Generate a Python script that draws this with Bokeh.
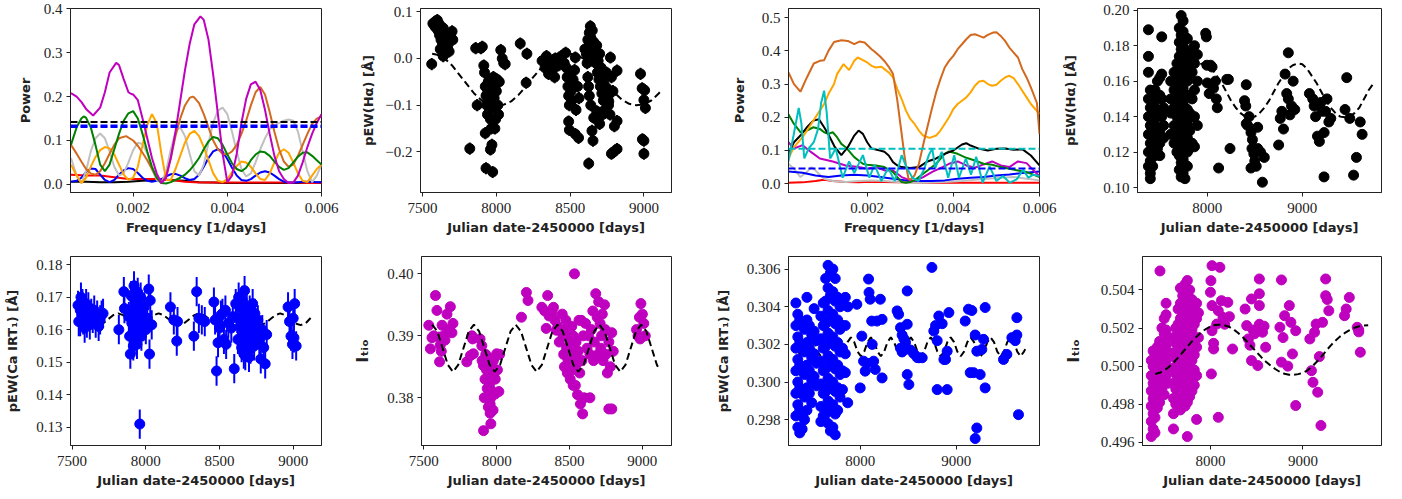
import numpy as np
from bokeh.plotting import figure
from bokeh.layouts import column, row
from bokeh.models import Range1d, FixedTicker, CustomJSTickFormatter, Span
from bokeh.embed import file_html
from bokeh.resources import INLINE

# ------------------------------------------------------------------ DATA
# Panel 1: periodograms (left star)  (frequency, power)
p1_magenta = [(0.00068,0.208),(0.0008,0.200),(0.0009,0.188),(0.0010,0.172),(0.00115,0.157),(0.0013,0.175),
              (0.0014,0.210),(0.0015,0.255),(0.00164,0.277),(0.0017,0.272),(0.0018,0.240),(0.0019,0.210),
              (0.00196,0.206),(0.0020,0.205),(0.0021,0.192),(0.0022,0.150),(0.0023,0.105),(0.0024,0.060),
              (0.0025,0.025),(0.0026,0.003),(0.0027,0.015),(0.0028,0.060),(0.0029,0.120),(0.0030,0.190),
              (0.0031,0.260),(0.0032,0.320),(0.0033,0.365),(0.00343,0.383),(0.0035,0.375),(0.0036,0.330),
              (0.0037,0.250),(0.0038,0.160),(0.0039,0.070),(0.0040,0.005),(0.0041,0.020),(0.0042,0.070),
              (0.0043,0.140),(0.0044,0.195),(0.0045,0.228),(0.0046,0.234),(0.0047,0.215),(0.0048,0.170),
              (0.0049,0.115),(0.0050,0.065),(0.0051,0.030),(0.0052,0.012),(0.0053,0.003),(0.0054,0.004),
              (0.0055,0.020),(0.0056,0.050),(0.0057,0.085),(0.0058,0.115),(0.0059,0.140),(0.0060,0.160)]
p1_brown = [(0.00068,0.090),(0.0008,0.070),(0.0009,0.052),(0.0010,0.035),(0.0011,0.025),(0.0012,0.022),
            (0.0013,0.030),(0.0014,0.048),(0.0015,0.070),(0.0016,0.090),(0.0017,0.105),(0.00185,0.110),
            (0.0020,0.100),(0.0021,0.088),(0.0022,0.072),(0.0023,0.055),(0.0024,0.035),(0.0025,0.015),
            (0.0026,0.003),(0.0027,0.020),(0.0028,0.060),(0.0029,0.110),(0.0030,0.150),(0.0031,0.180),
            (0.0032,0.197),(0.00326,0.200),(0.0033,0.198),(0.0034,0.185),(0.0035,0.160),(0.0036,0.130),
            (0.0037,0.100),(0.0038,0.080),(0.0039,0.070),(0.0040,0.068),(0.0041,0.075),(0.0042,0.090),
            (0.0043,0.115),(0.0044,0.145),(0.0045,0.180),(0.0046,0.210),(0.0047,0.222),(0.0048,0.205),
            (0.0049,0.165),(0.0050,0.120),(0.0051,0.080),(0.0052,0.052),(0.0053,0.040),(0.0054,0.045),
            (0.0055,0.065),(0.0056,0.090),(0.0057,0.115),(0.0058,0.138),(0.0059,0.150),(0.0060,0.155)]
p1_orange = [(0.00068,0.045),(0.0008,0.020),(0.0009,0.003),(0.0010,0.015),(0.0011,0.040),(0.0012,0.062),
             (0.0013,0.078),(0.0014,0.085),(0.0015,0.082),(0.0016,0.068),(0.0017,0.045),(0.0018,0.022),
             (0.0019,0.010),(0.0020,0.015),(0.0021,0.040),(0.0022,0.090),(0.0023,0.135),(0.0024,0.160),
             (0.0025,0.140),(0.0026,0.070),(0.0027,0.010),(0.0028,0.010),(0.0029,0.035),(0.0030,0.065),
             (0.0031,0.095),(0.0032,0.115),(0.0033,0.122),(0.0034,0.110),(0.0035,0.085),(0.0036,0.055),
             (0.0037,0.025),(0.0038,0.008),(0.0039,0.005),(0.0040,0.012),(0.0041,0.028),(0.0042,0.042),
             (0.0043,0.052),(0.0044,0.050),(0.0045,0.040),(0.0046,0.025),(0.0047,0.012),(0.0048,0.010),
             (0.0049,0.025),(0.0050,0.050),(0.0051,0.072),(0.0052,0.080),(0.0053,0.072),(0.0054,0.050),
             (0.0055,0.025),(0.0056,0.008),(0.0057,0.005),(0.0058,0.020),(0.0059,0.035),(0.0060,0.045)]
p1_grey = [(0.00068,0.060),(0.0008,0.020),(0.0009,0.003),(0.0010,0.030),(0.0011,0.075),(0.0012,0.105),
           (0.0013,0.116),(0.0014,0.105),(0.0015,0.075),(0.0016,0.040),(0.0017,0.020),(0.0018,0.025),
           (0.0019,0.050),(0.0020,0.078),(0.0021,0.095),(0.0022,0.092),(0.0023,0.070),(0.0024,0.035),
           (0.0025,0.010),(0.0026,0.003),(0.0027,0.030),(0.0028,0.080),(0.0029,0.120),(0.0030,0.130),
           (0.0031,0.110),(0.0032,0.070),(0.0033,0.030),(0.0034,0.020),(0.0035,0.045),(0.0036,0.095),
           (0.0037,0.140),(0.0038,0.168),(0.0039,0.175),(0.0040,0.160),(0.0041,0.120),(0.0042,0.075),
           (0.0043,0.035),(0.0044,0.018),(0.0045,0.025),(0.0046,0.050),(0.0047,0.080),(0.0048,0.105),
           (0.0049,0.125),(0.0050,0.135),(0.0051,0.140),(0.0052,0.145),(0.0053,0.148),(0.0054,0.145),
           (0.0055,0.120),(0.0056,0.075),(0.0057,0.030),(0.0058,0.005),(0.0059,0.020),(0.0060,0.045)]
p1_green = [(0.00068,0.090),(0.0008,0.130),(0.0009,0.150),(0.00095,0.155),(0.0010,0.152),(0.0011,0.130),
            (0.0012,0.090),(0.0013,0.045),(0.0014,0.030),(0.0015,0.045),(0.0016,0.080),(0.0017,0.115),
            (0.0018,0.145),(0.0019,0.162),(0.0020,0.167),(0.0021,0.150),(0.0022,0.115),(0.0023,0.075),
            (0.0024,0.040),(0.0025,0.015),(0.0026,0.003),(0.0027,0.002),(0.0028,0.005),(0.0029,0.010),
            (0.0030,0.015),(0.0031,0.022),(0.0032,0.032),(0.0033,0.045),(0.0034,0.060),(0.0035,0.080),
            (0.0036,0.098),(0.0037,0.108),(0.0038,0.105),(0.0039,0.090),(0.0040,0.068),(0.0041,0.048),
            (0.0042,0.035),(0.0043,0.030),(0.0044,0.038),(0.0045,0.055),(0.0046,0.068),(0.0047,0.075),
            (0.0048,0.073),(0.0049,0.065),(0.0050,0.052),(0.0051,0.040),(0.0052,0.033),(0.0053,0.037),
            (0.0054,0.050),(0.0055,0.063),(0.0056,0.072),(0.0057,0.073),(0.0058,0.065),(0.0059,0.055),
            (0.0060,0.045)]
p1_blue = [(0.00068,0.006),(0.0008,0.008),(0.0009,0.015),(0.0010,0.028),(0.0011,0.036),(0.0012,0.035),
           (0.0013,0.022),(0.0014,0.010),(0.0015,0.005),(0.0016,0.010),(0.0017,0.022),(0.0018,0.032),
           (0.0019,0.037),(0.0020,0.035),(0.0021,0.026),(0.0022,0.015),(0.0023,0.008),(0.0024,0.006),
           (0.0025,0.008),(0.0026,0.012),(0.0027,0.018),(0.0028,0.023),(0.0029,0.024),(0.0030,0.020),
           (0.0031,0.014),(0.0032,0.010),(0.0033,0.012),(0.0034,0.022),(0.0035,0.040),(0.0036,0.060),
           (0.0037,0.075),(0.0038,0.080),(0.0039,0.075),(0.0040,0.058),(0.0041,0.038),(0.0042,0.020),
           (0.0043,0.010),(0.0044,0.008),(0.0045,0.012),(0.0046,0.020),(0.0047,0.027),(0.0048,0.030),
           (0.0049,0.027),(0.0050,0.020),(0.0051,0.012),(0.0052,0.006),(0.0053,0.004),(0.0054,0.004),
           (0.0055,0.005),(0.0056,0.006),(0.0057,0.006),(0.0058,0.006),(0.0059,0.005),(0.0060,0.005)]
p1_red = [(0.00068,0.022),(0.0010,0.020),(0.0013,0.020),(0.0016,0.016),(0.0019,0.012),(0.0022,0.012),
          (0.0025,0.012),(0.0028,0.010),(0.0031,0.006),(0.0034,0.004),(0.0037,0.004),(0.0040,0.004),
          (0.0043,0.004),(0.0046,0.004),(0.0049,0.004),(0.0052,0.004),(0.0055,0.004),(0.0058,0.003),
          (0.0060,0.003)]
p1_black = [(0.00068,0.006),(0.0010,0.006),(0.0013,0.005),(0.0016,0.005),(0.0019,0.006),(0.0022,0.008),
            (0.0025,0.010),(0.0028,0.010),(0.0031,0.008),(0.0034,0.005),(0.0037,0.004),(0.0040,0.003),
            (0.0043,0.003),(0.0046,0.003),(0.0049,0.003),(0.0052,0.003),(0.0055,0.003),(0.0058,0.004),
            (0.0060,0.004)]
p1_levels = [0.142, 0.134, 0.131]
p1_level_colors = ["#000000", "#0000ff", "#0000ff"]

# Panel 3: periodograms (right star)
p3_brown = [(0.00017,0.336),(0.0003,0.300),(0.00045,0.277),(0.0006,0.320),(0.00076,0.362),(0.0009,0.370),
            (0.0010,0.372),(0.0011,0.400),(0.00123,0.427),(0.0014,0.432),(0.00155,0.430),(0.0017,0.420),
            (0.00182,0.428),(0.00194,0.425),(0.0021,0.405),(0.00217,0.398),(0.0023,0.383),(0.00241,0.368),
            (0.0025,0.352),(0.0026,0.330),(0.0027,0.250),(0.00278,0.170),(0.00286,0.090),(0.0029,0.055),
            (0.00296,0.015),(0.0030,0.012),(0.0031,0.025),(0.0032,0.060),(0.00335,0.145),(0.0035,0.225),
            (0.0036,0.275),(0.0037,0.315),(0.0038,0.350),(0.0039,0.370),(0.0040,0.385),(0.0041,0.405),
            (0.0042,0.420),(0.0043,0.435),(0.0044,0.448),(0.0045,0.450),(0.0046,0.445),(0.0047,0.440),
            (0.0048,0.448),(0.00492,0.455),(0.0050,0.456),(0.0051,0.445),(0.0052,0.430),(0.0053,0.410),
            (0.0054,0.395),(0.0055,0.380),(0.0056,0.345),(0.0057,0.320),(0.0058,0.290),(0.00594,0.243),
            (0.0060,0.150)]
p3_orange = [(0.00017,0.076),(0.0003,0.110),(0.0005,0.140),(0.0007,0.180),(0.0009,0.220),(0.0010,0.240),
             (0.0011,0.270),(0.00123,0.300),(0.0013,0.330),(0.00145,0.360),(0.00158,0.342),(0.0017,0.370),
             (0.00178,0.380),(0.0019,0.372),(0.0020,0.365),(0.0021,0.355),(0.0022,0.350),(0.00233,0.352),
             (0.0024,0.345),(0.0025,0.335),(0.0026,0.320),(0.0027,0.285),(0.0028,0.255),(0.0029,0.220),
             (0.0030,0.195),(0.0031,0.180),(0.0032,0.160),(0.0033,0.145),(0.00345,0.138),(0.0036,0.145),
             (0.0037,0.160),(0.0038,0.180),(0.0039,0.200),(0.0040,0.225),(0.0041,0.240),(0.0042,0.250),
             (0.0043,0.260),(0.0044,0.275),(0.0045,0.295),(0.0046,0.308),(0.0047,0.310),(0.0048,0.300),
             (0.0049,0.295),(0.0050,0.298),(0.0051,0.310),(0.0052,0.320),(0.0053,0.325),(0.0054,0.318),
             (0.0055,0.300),(0.0056,0.280),(0.0057,0.260),(0.0058,0.240),(0.0059,0.225),(0.0060,0.210)]
p3_cyan = [(0.00017,0.067),(0.00029,0.145),(0.00041,0.228),(0.00047,0.184),(0.00054,0.076),(0.00064,0.106),
           (0.00076,0.125),(0.00086,0.165),(0.00093,0.243),(0.0010,0.280),(0.00106,0.214),(0.00114,0.076),
           (0.00127,0.106),(0.00143,0.018),(0.00158,0.067),(0.0017,0.032),(0.0019,0.086),(0.00205,0.018),
           (0.00217,0.057),(0.00233,0.008),(0.00249,0.047),(0.00264,0.008),(0.0028,0.086),(0.00292,0.047),
           (0.00305,0.018),(0.00319,0.008),(0.00333,0.047),(0.00343,0.086),(0.00351,0.106),(0.00358,0.047),
           (0.00373,0.096),(0.00388,0.018),(0.00402,0.086),(0.00413,0.018),(0.00429,0.076),(0.00441,0.027),
           (0.00453,0.081),(0.00468,0.003),(0.00484,0.052),(0.0050,0.008),(0.00515,0.023),(0.00531,0.003),
           (0.00547,0.013),(0.00562,0.042),(0.00574,0.018),(0.00586,0.027),(0.0060,0.023)]
p3_black = [(0.00017,0.091),(0.0003,0.125),(0.00045,0.145),(0.0006,0.170),(0.00075,0.190),(0.00088,0.194),
            (0.0010,0.170),(0.0011,0.148),(0.00125,0.110),(0.0014,0.086),(0.00155,0.110),(0.0017,0.145),
            (0.0018,0.160),(0.0019,0.150),(0.0020,0.125),(0.0021,0.106),(0.0023,0.100),(0.0024,0.096),
            (0.0025,0.085),(0.0026,0.065),(0.0027,0.055),(0.0028,0.050),(0.0030,0.047),(0.0032,0.050),
            (0.0034,0.067),(0.0036,0.076),(0.0038,0.090),(0.0040,0.100),(0.0042,0.118),(0.0043,0.122),
            (0.0044,0.115),(0.0046,0.105),(0.0048,0.100),(0.0050,0.105),(0.0052,0.106),(0.0054,0.102),
            (0.0056,0.104),(0.0058,0.085),(0.0060,0.055)]
p3_green = [(0.00017,0.209),(0.0003,0.180),(0.00045,0.155),(0.0006,0.160),(0.00075,0.170),(0.0009,0.165),
            (0.0010,0.155),(0.0011,0.150),(0.0012,0.155),(0.0013,0.140),(0.0014,0.120),(0.0015,0.110),
            (0.0016,0.095),(0.0017,0.080),(0.0018,0.070),(0.0019,0.060),(0.0020,0.057),(0.0022,0.055),
            (0.0024,0.050),(0.0026,0.035),(0.0027,0.020),(0.0028,0.005),(0.0029,0.003),(0.0030,0.005),
            (0.0031,0.010),(0.0032,0.020),(0.0034,0.040),(0.0036,0.060),(0.0038,0.090),(0.0039,0.097),
            (0.0041,0.090),(0.0043,0.078),(0.0045,0.070),(0.0047,0.060),(0.0049,0.057),(0.0051,0.050),
            (0.0053,0.045),(0.0055,0.040),(0.0057,0.035),(0.0059,0.025),(0.0060,0.020)]
p3_magenta = [(0.00017,0.125),(0.0003,0.106),(0.0005,0.116),(0.0007,0.095),(0.0009,0.076),(0.0012,0.067),
              (0.0015,0.055),(0.0018,0.050),(0.0020,0.045),(0.0022,0.050),(0.0024,0.040),(0.0026,0.040),
              (0.0028,0.020),(0.0030,0.010),(0.0031,0.008),(0.0033,0.020),(0.0035,0.035),(0.0037,0.047),
              (0.0039,0.060),(0.0041,0.067),(0.0043,0.055),(0.0045,0.048),(0.0047,0.058),(0.0049,0.067),
              (0.0051,0.055),(0.0053,0.050),(0.0055,0.067),(0.0057,0.062),(0.0059,0.035),(0.0060,0.023)]
p3_blue = [(0.00017,0.037),(0.0005,0.033),(0.0008,0.025),(0.0011,0.020),(0.0014,0.025),(0.0017,0.027),
           (0.0020,0.025),(0.0023,0.020),(0.0026,0.015),(0.0029,0.010),(0.0032,0.008),(0.0035,0.008),
           (0.0038,0.010),(0.0041,0.015),(0.0044,0.018),(0.0047,0.020),(0.0050,0.025),(0.0053,0.028),
           (0.0056,0.032),(0.0060,0.037)]
p3_grey = [(0.00017,0.060),(0.0003,0.045),(0.00045,0.020),(0.0006,0.035),(0.0007,0.050),(0.0008,0.040),
           (0.0010,0.015),(0.0012,0.008),(0.0015,0.005),(0.0018,0.008),(0.0021,0.010),(0.0024,0.008),
           (0.0027,0.005),(0.0030,0.003),(0.0033,0.003),(0.0036,0.004),(0.0039,0.006),(0.0042,0.008),
           (0.0045,0.012),(0.0048,0.015),(0.0051,0.018),(0.0054,0.020),(0.0057,0.015),(0.0060,0.010)]
p3_red = [(0.00017,0.003),(0.0005,0.004),(0.0008,0.008),(0.0010,0.012),(0.0012,0.008),(0.0015,0.005),
          (0.0018,0.004),(0.0021,0.006),(0.0024,0.005),(0.0027,0.004),(0.0030,0.004),(0.0033,0.003),
          (0.0036,0.003),(0.0039,0.003),(0.0042,0.003),(0.0045,0.003),(0.0048,0.003),(0.0051,0.003),
          (0.0054,0.003),(0.0057,0.003),(0.0060,0.003)]
p3_levels = [0.105, 0.046]
p3_level_colors = ["#00bfbf", "#0000ff"]

# Panel 2: pEW(Halpha), left star  (JD-2450000, value)
p2_points = [(7562,-0.012),(7570,0.075),(7578,0.072),(7585,0.068),(7590,0.080),(7595,0.065),(7600,0.082),
             (7605,0.060),(7610,0.075),(7615,0.050),(7620,0.070),(7625,0.040),(7630,0.055),(7635,0.030),
             (7640,0.065),(7645,0.020),(7650,0.010),(7655,0.035),(7660,0.045),(7670,0.025),(7680,0.015),
             (7690,0.050),(7700,0.058),(7705,0.040),(7620,0.020),(7640,0.005),
             (7820,-0.193),(7860,0.022),(7870,-0.100),(7895,0.022),(7905,0.025),(7915,-0.015),(7920,-0.030),
             (7925,-0.060),(7930,-0.080),(7935,-0.100),(7940,-0.120),(7925,-0.160),(7930,-0.235),(7945,-0.050),
             (7950,-0.070),(7950,-0.090),(7955,-0.110),(7960,-0.130),(7965,-0.150),(7960,-0.195),(7970,-0.185),
             (7975,-0.243),(7980,-0.040),(7985,-0.060),(7985,-0.085),(7990,-0.105),(7995,-0.130),(8000,-0.070),
             (8005,-0.045),(8010,-0.100),(8015,-0.120),(8020,-0.050),(8030,0.018),(8040,0.000),(8050,-0.010),
             (8060,-0.012),(7990,-0.150),(7940,-0.075),
             (8162,0.032),(8207,0.010),(8202,-0.052),
             (8310,-0.005),(8330,-0.020),(8340,0.005),(8354,-0.033),(8365,-0.010),(8380,-0.025),(8395,-0.040),
             (8400,0.000),(8420,-0.015),(8440,0.005),(8460,-0.010),(8470,0.012),
             (8475,-0.020),(8480,-0.040),(8485,-0.060),(8490,-0.080),(8495,-0.100),(8500,-0.030),(8505,-0.070),
             (8510,-0.090),(8490,-0.135),(8495,-0.153),(8520,-0.045),(8530,-0.025),(8535,0.002),(8540,-0.110),
             (8535,-0.162),(8550,-0.060),(8557,-0.170),(8560,-0.085),
             (8600,0.020),(8610,0.010),(8615,-0.010),(8620,0.040),(8620,-0.040),(8625,0.025),(8625,-0.060),
             (8630,0.055),(8630,-0.080),(8637,0.069),(8640,0.045),(8640,-0.100),(8645,0.030),(8650,0.060),
             (8655,0.015),(8660,0.035),(8665,0.000),(8670,0.020),(8675,-0.010),(8680,0.028),(8685,-0.030),
             (8690,-0.005),(8695,-0.045),(8700,0.010),(8705,-0.060),(8710,-0.020),(8715,-0.075),(8720,-0.040),
             (8725,-0.090),(8730,-0.055),(8735,-0.110),(8740,-0.070),(8745,-0.030),(8750,-0.064),(8755,-0.085),
             (8760,-0.100),(8762,-0.092),(8770,-0.120),(8773,0.002),(8780,-0.040),(8790,-0.070),(8800,-0.145),
             (8818,-0.134),(8818,-0.026),(8648,-0.155),(8655,-0.176),(8626,-0.225),(8660,-0.127),(8680,-0.113),
             (8700,-0.140),(8720,-0.120),(8780,-0.204),(8795,-0.200),(8818,-0.194),
             (8977,-0.033),(8988,-0.064),(9005,-0.068),(9000,-0.089),(9010,-0.106),(8990,-0.173),(9000,-0.176),
             (9000,-0.204)]
p2_err = 0.013
p2_model = [(7565,0.010),(7600,0.008),(7650,0.000),(7700,-0.015),(7750,-0.035),(7800,-0.055),(7850,-0.075),
            (7900,-0.090),(7950,-0.098),(8000,-0.100),(8050,-0.099),(8100,-0.092),(8150,-0.078),(8200,-0.060),
            (8250,-0.040),(8300,-0.022),(8350,-0.008),(8400,0.002),(8450,0.008),(8500,0.010),(8550,0.007),
            (8600,-0.002),(8650,-0.016),(8700,-0.034),(8750,-0.054),(8800,-0.073),(8850,-0.088),(8900,-0.097),
            (8950,-0.100),(9000,-0.098),(9050,-0.090),(9100,-0.075),(9120,-0.068)]

# Panel 4: pEW(Halpha), right star
p4_points = [(7380,0.189),(7380,0.174),(7380,0.165),(7380,0.150),(7380,0.140),(7380,0.130),(7380,0.120),(7380,0.112),
             (7400,0.155),(7400,0.145),(7400,0.135),(7400,0.125),(7400,0.115),(7400,0.108),(7400,0.105),
             (7425,0.150),(7425,0.140),(7425,0.130),(7425,0.120),(7425,0.112),
             (7450,0.155),(7450,0.145),(7450,0.135),(7450,0.125),(7450,0.118),
             (7475,0.160),(7475,0.150),(7475,0.140),(7475,0.130),(7475,0.122),
             (7500,0.162),(7500,0.152),(7500,0.142),(7500,0.132),(7500,0.125),(7500,0.118),
             (7520,0.185),(7520,0.164),(7520,0.150),(7520,0.140),(7520,0.128),
             (7540,0.145),(7540,0.135),(7540,0.128),
             (7615,0.130),(7615,0.142),(7615,0.150),(7615,0.160),
             (7650,0.125),(7650,0.135),(7650,0.145),(7650,0.155),(7650,0.165),
             (7680,0.120),(7680,0.130),(7680,0.140),(7680,0.150),(7680,0.160),(7680,0.170),
             (7705,0.110),(7705,0.118),(7705,0.126),(7705,0.134),(7705,0.142),(7705,0.150),(7705,0.158),
             (7705,0.166),(7705,0.174),(7705,0.182),(7705,0.190),
             (7725,0.106),(7725,0.114),(7725,0.122),(7725,0.130),(7725,0.138),(7725,0.146),(7725,0.154),
             (7725,0.162),(7725,0.170),(7725,0.178),(7725,0.186),(7725,0.197),
             (7745,0.108),(7745,0.116),(7745,0.124),(7745,0.132),(7745,0.140),(7745,0.148),(7745,0.156),
             (7745,0.164),(7745,0.172),(7745,0.180),(7745,0.188),(7745,0.194),
             (7765,0.105),(7765,0.113),(7765,0.121),(7765,0.129),(7765,0.137),(7765,0.145),(7765,0.153),
             (7765,0.161),(7765,0.169),(7765,0.177),(7765,0.185),
             (7790,0.112),(7790,0.120),(7790,0.128),(7790,0.136),(7790,0.144),(7790,0.152),(7790,0.160),
             (7790,0.168),(7790,0.176),(7790,0.184),
             (7815,0.122),(7815,0.132),(7815,0.142),(7815,0.152),(7815,0.162),(7815,0.172),
             (7840,0.125),(7840,0.140),(7840,0.150),(7840,0.165),(7840,0.178),
             (7865,0.123),(7865,0.140),(7865,0.155),(7865,0.170),(7865,0.180),
             (7895,0.135),(7895,0.160),(7895,0.175),
             (7983,0.187),(7990,0.185),(7995,0.169),(8035,0.169),(8050,0.168),(8000,0.159),(8020,0.153),
             (8065,0.156),(8085,0.160),(8095,0.150),(8105,0.145),(8119,0.111),(8205,0.161),(8222,0.161),
             (8239,0.122),
             (8410,0.158),(8392,0.149),(8405,0.146),(8410,0.136),(8425,0.135),(8440,0.140),(8460,0.131),
             (8475,0.127),(8470,0.122),(8490,0.119),(8500,0.115),(8515,0.112),(8460,0.111),(8530,0.134),
             (8530,0.122),(8560,0.120),(8600,0.117),(8580,0.103),
             (8751,0.124),(8768,0.139),(8785,0.143),(8802,0.133),(8819,0.164),(8836,0.153),(8853,0.150),
             (8853,0.176),(8870,0.141),(8887,0.146),(8904,0.160),(8921,0.144),
             (9075,0.153),(9110,0.150),(9125,0.146),(9140,0.140),(9160,0.129),(9180,0.126),(9195,0.148),
             (9210,0.143),(9230,0.131),(9245,0.143),(9260,0.150),(9280,0.137),(9229,0.106),(9300,0.139),
             (9468,0.162),(9450,0.144),(9500,0.139),(9570,0.117),(9540,0.107),(9610,0.137),(9630,0.130)]
p4_model = [(7400,0.1400),(7450,0.1396),(7500,0.1400),(7550,0.1420),(7600,0.1450),(7650,0.1490),(7700,0.1540),
            (7750,0.1590),(7800,0.1630),(7850,0.1670),(7900,0.1690),(7950,0.1700),(8000,0.1695),(8050,0.1670),
            (8100,0.1630),(8150,0.1590),(8200,0.1540),(8250,0.1490),(8300,0.1450),(8350,0.1420),(8400,0.1400),
            (8450,0.1396),(8500,0.1400),(8550,0.1420),(8600,0.1450),(8650,0.1490),(8700,0.1540),(8750,0.1590),
            (8800,0.1630),(8850,0.1670),(8900,0.1690),(8950,0.1700),(9000,0.1695),(9050,0.1670),(9100,0.1630),
            (9150,0.1590),(9200,0.1540),(9250,0.1490),(9300,0.1450),(9350,0.1420),(9400,0.1400),(9450,0.1396),
            (9500,0.1400),(9550,0.1420),(9600,0.1450),(9650,0.1500),(9700,0.1550),(9740,0.1580)]

# Panel 5: pEW(Ca IRT1), left star
p5_points = [(7540,0.1675),(7545,0.1625),(7555,0.1660),(7560,0.1700),(7565,0.1645),(7570,0.1680),(7575,0.1630),
             (7580,0.1665),(7585,0.1605),(7590,0.1655),(7595,0.1680),(7600,0.1620),(7605,0.1645),(7610,0.1670),
             (7620,0.1615),(7630,0.1650),(7640,0.1635),(7650,0.1660),(7660,0.1620),(7670,0.1645),(7680,0.1610),
             (7690,0.1630),(7700,0.1645),(7710,0.1650),(7555,0.1625),(7575,0.1655),
             (7817,0.1600),(7851,0.1717),(7855,0.1665),
             (7885,0.1640),(7890,0.1580),(7895,0.1525),(7900,0.1660),(7905,0.1620),(7910,0.1700),(7915,0.1550),
             (7920,0.1735),(7925,0.1600),(7930,0.1680),(7935,0.1570),(7940,0.1640),(7945,0.1715),(7950,0.1590),
             (7955,0.1660),(7960,0.1620),(7965,0.1700),(7970,0.1580),(7975,0.1645),(7980,0.1610),(7990,0.1670),
             (8000,0.1600),(8010,0.1635),(8020,0.1725),(8025,0.1525),(8030,0.1690),(8040,0.1615),(7959,0.1310),
             (7940,0.1555),(7900,0.1705),
             (8167,0.1670),(8190,0.1630),(8210,0.1565),(8215,0.1625),
             (8326,0.1580),(8345,0.1717),(8360,0.1635),(8380,0.1630),(8400,0.1625),
             (8462,0.1685),(8470,0.1630),(8480,0.1473),(8490,0.1560),(8500,0.1605),(8510,0.1645),(8520,0.1650),
             (8530,0.1570),(8545,0.1555),(8560,0.1620),(8580,0.1605),(8590,0.1640),(8600,0.1480),(8540,0.1660),
             (8610,0.1680),(8620,0.1635),(8625,0.1570),(8630,0.1700),(8640,0.1610),(8645,0.1665),(8650,0.1545),
             (8655,0.1690),(8660,0.1580),(8665,0.1640),(8670,0.1720),(8675,0.1520),(8680,0.1620),(8685,0.1670),
             (8690,0.1560),(8695,0.1635),(8700,0.1600),(8705,0.1660),(8710,0.1540),(8715,0.1630),(8720,0.1580),
             (8725,0.1680),(8730,0.1610),(8735,0.1550),(8740,0.1650),(8750,0.1595),(8760,0.1630),(8770,0.1570),
             (8780,0.1510),(8790,0.1600),(8800,0.1545),(8810,0.1495),(8820,0.1585),(8700,0.1515),(8665,0.1525),
             (8965,0.1670),(8975,0.1625),(8985,0.1580),(8995,0.1555),(9005,0.1575),(9010,0.1680),(9020,0.1550),
             (9000,0.1635)]
p5_err = 0.0045
p5_model = [(7560,0.16476),(7572,0.16447),(7606,0.1632),(7640,0.16193),(7675,0.1614),(7709,0.16193),(7744,0.1632),
            (7778,0.16447),(7812,0.1650),(7846,0.16447),(7881,0.1632),(7915,0.16193),(7950,0.1614),(7984,0.16193),
            (8019,0.1632),(8053,0.16447),(8087,0.1650),(8121,0.16447),(8156,0.1632),(8190,0.16193),(8225,0.1614),
            (8259,0.16193),(8294,0.1632),(8328,0.16447),(8362,0.1650),(8396,0.16447),(8431,0.1632),(8465,0.16193),
            (8500,0.1614),(8534,0.16193),(8569,0.1632),(8603,0.16447),(8637,0.1650),(8671,0.16447),(8706,0.1632),
            (8740,0.16193),(8775,0.1614),(8809,0.16193),(8844,0.1632),(8878,0.16447),(8912,0.1650),(8946,0.16447),
            (8981,0.1632),(9015,0.16193),(9050,0.1614),(9084,0.16193),(9118,0.1636)]

# Panel 6: I_TiO, left star
p6_points = [(7534,0.3917),(7545,0.3879),(7556,0.3897),(7568,0.3900),(7580,0.3965),(7590,0.3941),(7602,0.3898),
             (7613,0.3885),(7608,0.3858),(7625,0.3917),(7636,0.3900),(7659,0.3935),(7682,0.3947),(7693,0.3905),
             (7700,0.3920),(7620,0.3875),(7645,0.3893),(7670,0.3910),
             (7795,0.3858),(7830,0.3900),(7840,0.3871),(7820,0.3868),(7835,0.3895),
             (7886,0.3895),(7898,0.3884),(7909,0.3852),(7920,0.3830),(7932,0.3801),(7943,0.3785),(7955,0.3775),
             (7966,0.3840),(7977,0.3860),(7910,0.3747),(7960,0.3758),(7990,0.3806),(8000,0.3871),(7925,0.3870),
             (7940,0.3850),(7950,0.3820),(7970,0.3810),(7980,0.3835),(7900,0.3860),(7930,0.3845),(7945,0.3862),
             (7960,0.3800),(7975,0.3780),(7990,0.3830),(8005,0.3845),(8015,0.3810),(7935,0.3815),(7955,0.3790),
             (7965,0.3855),(7985,0.3865),(7915,0.3800),(8020,0.3870),
             (8170,0.3930),(8204,0.3970),(8215,0.3957),
             (8310,0.3946),(8330,0.3940),(8350,0.3965),(8340,0.3912),(8380,0.3938),(8390,0.3946),(8400,0.3925),
             (8410,0.3909),(8420,0.3915),(8360,0.3932),(8430,0.3890),
             (8450,0.3935),(8455,0.3900),(8460,0.3870),(8465,0.3850),(8470,0.3910),(8480,0.3880),(8485,0.3840),
             (8490,0.3860),(8500,0.3895),(8505,0.3830),(8510,0.3880),(8520,0.3845),(8525,0.3900),(8530,0.3865),
             (8534,0.4000),(8540,0.3820),(8545,0.3890),(8550,0.3855),(8555,0.3805),(8560,0.3875),(8570,0.3840),
             (8575,0.3790),(8580,0.3925),(8585,0.3860),(8590,0.3774),(8595,0.3900),(8600,0.3800),(8475,0.3925),
             (8515,0.3915),(8565,0.3925),(8525,0.3820),
             (8610,0.3920),(8620,0.3880),(8630,0.3900),(8640,0.3870),(8650,0.3910),(8660,0.3940),(8670,0.3890),
             (8680,0.3968),(8690,0.3930),(8700,0.3955),(8710,0.3920),(8715,0.3880),(8720,0.3900),(8730,0.3860),
             (8740,0.3950),(8745,0.3910),(8750,0.3870),(8760,0.3840),(8770,0.3890),(8780,0.3850),(8790,0.3905),
             (8800,0.3875),(8665,0.3860),(8695,0.3870),(8725,0.3935),(8770,0.3782),(8790,0.3782),(8640,0.3800),
             (8960,0.3910),(8970,0.3900),(8980,0.3930),(8990,0.3952),(9000,0.3935),(9010,0.3920),(9020,0.3900),
             (8985,0.3895)]
p6_err = 0.0006
p6_model = [(7557,0.3918),(7593,0.3907),(7629,0.3880),(7665,0.3853),(7700,0.3842),(7736,0.3853),(7772,0.3880),
            (7808,0.3907),(7844,0.3918),(7880,0.3907),(7916,0.3880),(7952,0.3853),(7987,0.3842),(8023,0.3853),
            (8059,0.3880),(8095,0.3907),(8131,0.3918),(8167,0.3907),(8203,0.3880),(8239,0.3853),(8274,0.3842),
            (8310,0.3853),(8346,0.3880),(8382,0.3907),(8418,0.3918),(8454,0.3907),(8490,0.3880),(8526,0.3853),
            (8561,0.3842),(8597,0.3853),(8633,0.3880),(8669,0.3907),(8705,0.3918),(8741,0.3907),(8777,0.3880),
            (8813,0.3853),(8848,0.3842),(8884,0.3853),(8920,0.3880),(8956,0.3907),(8992,0.3918),(9028,0.3907),
            (9064,0.3880),(9100,0.3853),(9114,0.3847)]

# Panel 7: pEW(Ca IRT1), right star
p7_points = [(7330,0.3042),(7330,0.3030),(7330,0.3018),(7330,0.3006),(7330,0.2994),(7330,0.2982),
             (7350,0.3036),(7350,0.3024),(7350,0.3012),(7350,0.3000),(7350,0.2988),(7350,0.2976),
             (7370,0.3033),(7370,0.3021),(7370,0.3009),(7370,0.2997),(7370,0.2985),(7370,0.2973),
             (7395,0.3030),(7395,0.3018),(7395,0.3006),(7395,0.2994),(7395,0.2982),(7395,0.2975),
             (7420,0.3028),(7420,0.3016),(7420,0.3004),(7420,0.2992),(7420,0.2980),
             (7445,0.3045),(7445,0.3033),(7445,0.3021),(7445,0.3009),(7445,0.2997),(7445,0.2985),
             (7470,0.3030),(7470,0.3018),(7470,0.3006),(7470,0.2994),
             (7495,0.3025),(7495,0.3013),(7495,0.3001),(7495,0.2989),
             (7520,0.3039),(7520,0.3027),(7520,0.3015),(7520,0.3003),
             (7545,0.3022),(7545,0.3010),(7545,0.2998),
             (7590,0.3035),(7590,0.3023),(7590,0.3011),(7590,0.2999),(7590,0.2987),(7590,0.2979),
             (7615,0.3042),(7615,0.3030),(7615,0.3018),(7615,0.3006),(7615,0.2994),(7615,0.2982),
             (7640,0.3055),(7640,0.3043),(7640,0.3031),(7640,0.3019),(7640,0.3007),(7640,0.2995),(7640,0.2983),
             (7665,0.3062),(7665,0.3050),(7665,0.3038),(7665,0.3026),(7665,0.3014),(7665,0.3002),(7665,0.2990),(7665,0.2978),
             (7690,0.3058),(7690,0.3046),(7690,0.3034),(7690,0.3022),(7690,0.3010),(7690,0.2998),(7690,0.2986),(7690,0.2974),
             (7715,0.3060),(7715,0.3048),(7715,0.3036),(7715,0.3024),(7715,0.3012),(7715,0.3000),(7715,0.2988),(7715,0.2976),
             (7740,0.3055),(7740,0.3043),(7740,0.3031),(7740,0.3019),(7740,0.3007),(7740,0.2995),(7740,0.2983),(7740,0.2972),
             (7765,0.3045),(7765,0.3033),(7765,0.3021),(7765,0.3009),(7765,0.2997),(7765,0.2985),
             (7790,0.3040),(7790,0.3028),(7790,0.3016),(7790,0.3004),(7790,0.2992),
             (7815,0.3042),(7815,0.3030),(7815,0.3018),(7815,0.3006),(7815,0.2996),
             (7845,0.3045),(7845,0.3030),(7845,0.3015),(7845,0.3005),
             (7870,0.3040),(7870,0.2989),
             (7965,0.30413),(8000,0.29969),(8017,0.30244),(8035,0.30111),(8052,0.30058),(8070,0.30100),
             (8087,0.30547),(8092,0.30476),(8104,0.30440),(8120,0.30324),(8125,0.30200),(8140,0.30111),
             (8157,0.30067),(8175,0.30324),(8210,0.30440),(8228,0.30333),(8228,0.30022),
             (8385,0.30378),(8400,0.30360),(8420,0.30289),(8437,0.30250),(8455,0.30230),(8420,0.30180),
             (8437,0.30160),(8472,0.30210),(8490,0.30307),(8490,0.30484),(8490,0.30040),(8507,0.29987),
             (8524,0.30170),(8559,0.30150),(8594,0.30130),(8611,0.30129),(8646,0.30129),
             (8747,0.30609),(8767,0.30271),(8785,0.30300),(8802,0.30220),(8802,0.29960),(8819,0.30351),
             (8854,0.30310),(8872,0.30120),(8889,0.30120),(8906,0.30164),(8924,0.30369),(8906,0.29960),
             (9094,0.30324),(9128,0.30387),(9146,0.30050),(9163,0.30380),(9180,0.30050),(9198,0.30250),
             (9198,0.29700),(9215,0.30164),(9215,0.29756),(9250,0.30040),(9285,0.30227),(9302,0.30396),
             (9302,0.29969),(9267,0.30173),
             (9493,0.30120),(9528,0.30147),(9580,0.30236),(9615,0.30220),(9632,0.30342),(9649,0.29827),
             (9632,0.30250)]
p7_model = [(7340,0.30175),(7383,0.30137),(7418,0.30162),(7452,0.30212),(7487,0.30237),(7522,0.30212),
            (7556,0.30162),(7591,0.30137),(7626,0.30162),(7660,0.30212),(7695,0.30237),(7730,0.30212),
            (7764,0.30162),(7799,0.30137),(7834,0.30162),(7868,0.30212),(7903,0.30237),(7938,0.30212),
            (7972,0.30162),(8007,0.30137),(8042,0.30162),(8076,0.30212),(8111,0.30237),(8146,0.30212),
            (8180,0.30162),(8215,0.30137),(8250,0.30162),(8284,0.30212),(8319,0.30237),(8354,0.30212),
            (8388,0.30162),(8423,0.30137),(8458,0.30162),(8492,0.30212),(8527,0.30237),(8562,0.30212),
            (8596,0.30162),(8631,0.30137),(8666,0.30162),(8700,0.30212),(8735,0.30237),(8770,0.30212),
            (8804,0.30162),(8839,0.30137),(8874,0.30162),(8908,0.30212),(8943,0.30237),(8978,0.30212),
            (9012,0.30162),(9047,0.30137),(9082,0.30162),(9116,0.30212),(9151,0.30237),(9186,0.30212),
            (9220,0.30162),(9255,0.30137),(9290,0.30162),(9324,0.30212),(9359,0.30237),(9394,0.30212),
            (9428,0.30162),(9463,0.30137),(9498,0.30162),(9532,0.30212),(9567,0.30237),(9602,0.30212),
            (9636,0.30162),(9671,0.30137),(9706,0.30162),(9720,0.30175)]

# Panel 8: I_TiO, right star
p8_points = [(7360,0.5003),(7360,0.4995),(7360,0.4987),(7360,0.4979),(7360,0.4971),(7360,0.4963),
             (7380,0.5008),(7380,0.5000),(7380,0.4991),(7380,0.4983),(7380,0.4975),(7380,0.4967),
             (7400,0.5005),(7400,0.4997),(7400,0.4989),(7400,0.4981),(7400,0.4973),(7400,0.4965),
             (7425,0.5010),(7425,0.5002),(7425,0.4994),(7425,0.4986),(7425,0.4978),
             (7454,0.5050),
             (7450,0.5013),(7450,0.5005),(7450,0.4997),(7450,0.4989),(7450,0.4981),
             (7475,0.5020),(7475,0.5012),(7475,0.5004),(7475,0.4996),(7475,0.4988),
             (7500,0.5025),(7500,0.5017),(7500,0.5009),(7500,0.5001),(7500,0.4993),(7500,0.4985),
             (7520,0.5033),(7520,0.5027),(7520,0.5019),(7520,0.5011),(7520,0.5003),(7520,0.4995),
             (7540,0.5015),(7540,0.5007),(7540,0.4999),(7540,0.4991),
             (7600,0.5015),(7600,0.5007),(7600,0.4999),(7600,0.4991),(7600,0.4983),(7600,0.4975),(7600,0.4967),
             (7625,0.5020),(7625,0.5012),(7625,0.5004),(7625,0.4996),(7625,0.4988),(7625,0.4980),
             (7650,0.5030),(7650,0.5022),(7650,0.5014),(7650,0.5006),(7650,0.4998),(7650,0.4990),(7650,0.4982),
             (7675,0.5041),(7675,0.5033),(7675,0.5025),(7675,0.5017),(7675,0.5009),(7675,0.5001),(7675,0.4993),
             (7675,0.4985),(7675,0.4977),
             (7700,0.5037),(7700,0.5029),(7700,0.5021),(7700,0.5013),(7700,0.5005),(7700,0.4997),(7700,0.4989),
             (7700,0.4981),
             (7725,0.5043),(7725,0.5035),(7725,0.5027),(7725,0.5019),(7725,0.5011),(7725,0.5003),(7725,0.4995),
             (7725,0.4987),(7725,0.4979),
             (7750,0.5045),(7750,0.5037),(7750,0.5029),(7750,0.5021),(7750,0.5013),(7750,0.5005),(7750,0.4997),
             (7750,0.4989),(7750,0.4981),(7750,0.4963),
             (7775,0.5040),(7775,0.5032),(7775,0.5024),(7775,0.5016),(7775,0.5008),(7775,0.5000),(7775,0.4992),
             (7775,0.4984),
             (7800,0.5035),(7800,0.5027),(7800,0.5019),(7800,0.5011),(7800,0.5003),(7800,0.4995),(7800,0.4987),
             (7825,0.5030),(7825,0.5022),(7825,0.5014),(7825,0.5006),(7825,0.4998),(7825,0.4990),
             (7850,0.5033),(7850,0.5025),(7850,0.5010),(7850,0.4995),(7850,0.4972),
             (7870,0.5028),(7870,0.5015),
             (8000,0.50388),(8005,0.50449),(8017,0.50528),(8017,0.50318),(8017,0.50186),(8010,0.49959),
             (8034,0.50120),(8034,0.50090),(8068,0.50221),(8085,0.50291),(8085,0.49731),(8102,0.50519),
             (8119,0.50344),(8136,0.50256),(8154,0.50220),(8188,0.50335),(8205,0.50260),(8239,0.50090),
             (8375,0.50300),(8392,0.50213),(8410,0.50143),(8427,0.50110),(8444,0.50353),(8461,0.50190),
             (8478,0.50170),(8444,0.50029),(8512,0.50003),(8529,0.50458),(8529,0.50380),(8529,0.50318),
             (8529,0.50220),(8563,0.50178),(8580,0.50210),(8597,0.50099),
             (8751,0.50204),(8768,0.50453),(8768,0.50021),(8785,0.50150),(8802,0.50265),(8836,0.50000),
             (8853,0.50318),(8870,0.50230),(8887,0.50064),(8922,0.50186),(8922,0.49793),
             (9075,0.50143),(9092,0.49976),(9109,0.49915),(9126,0.50178),(9143,0.50221),(9160,0.49863),
             (9178,0.50050),(9195,0.49688),(9212,0.50230),(9246,0.50458),(9246,0.50370),(9263,0.50350),
             (9280,0.50291),
             (9450,0.50265),(9468,0.50300),(9502,0.50361),(9587,0.50204),(9604,0.50180),(9621,0.50073),
             (9604,0.50190)]
p8_model = [(7403,0.49959),(7450,0.49965),(7500,0.49978),(7550,0.49995),(7600,0.50018),(7650,0.50045),
            (7700,0.50073),(7750,0.50102),(7800,0.50130),(7850,0.50155),(7900,0.50177),(7950,0.50195),
            (8000,0.50208),(8050,0.50216),(8100,0.50218),(8150,0.50215),(8200,0.50207),(8250,0.50193),
            (8300,0.50174),(8350,0.50152),(8400,0.50127),(8450,0.50100),(8500,0.50073),(8550,0.50047),
            (8600,0.50023),(8650,0.50003),(8700,0.49985),(8750,0.49970),(8800,0.49960),(8850,0.49955),
            (8900,0.49955),(8950,0.49958),(9000,0.49965),(9050,0.49978),(9100,0.49998),(9150,0.50023),
            (9200,0.50050),(9250,0.50080),(9300,0.50108),(9350,0.50133),(9400,0.50155),(9450,0.50173),
            (9500,0.50188),(9550,0.50200),(9600,0.50208),(9650,0.50213),(9706,0.50215)]

# tick values
freq_ticks = [0.002, 0.004, 0.006]
jd_ticks_left = [7500, 8000, 8500, 9000]
jd_ticks_right = [8000, 9000]
p1_yticks = [0.0, 0.1, 0.2, 0.3, 0.4]
p2_yticks = [-0.2, -0.1, 0.0, 0.1]
p3_yticks = [0.0, 0.1, 0.2, 0.3, 0.4, 0.5]
p4_yticks = [0.10, 0.12, 0.14, 0.16, 0.18, 0.20]
p5_yticks = [0.13, 0.14, 0.15, 0.16, 0.17, 0.18]
p6_yticks = [0.38, 0.39, 0.40]
p7_yticks = [0.298, 0.300, 0.302, 0.304, 0.306]
p8_yticks = [0.496, 0.498, 0.500, 0.502, 0.504]

FREQ_LABEL = "Frequency [1/days]"
JD_LABEL = "Julian date-2450000 [days]"
POWER_LABEL = "Power"
HA_LABEL = "pEW(H\u03b1) [\u00c5]"
CA_LABEL = "pEW(Ca IRT\u2081) [\u00c5]"
TIO_LABEL = "I\u209c\u1d62\u2092"

# ------------------------------------------------------------------ STYLE / LAYOUT
MAG = "#bf00bf"; ORG = "#ffa500"; BRN = "#d2691e"; GRY = "#c0c0c0"; GRN = "#008000"
BLU = "#0000ff"; RED = "#ff0000"; BLK = "#000000"; CYA = "#00bfbf"
FW = 251
TICK_FONT = "Liberation Serif"
LABEL_FONT = "DejaVu Sans"


def unzip(pts):
    a, b = zip(*pts)
    return np.array(a, dtype=float), np.array(b, dtype=float)


def fmt(dec):
    return CustomJSTickFormatter(args=dict(d=dec),
                                 code="return tick.toFixed(d).replace('-', '\u2212');")


def make(xr, yr, xt, yt, xd, yd, xlab, ylab, bl, br, bt, bb, fh, ystand, ylab_size="13px"):
    p = figure(width=bl + FW + br, height=bt + fh + bb,
               x_range=Range1d(*xr), y_range=Range1d(*yr),
               output_backend="svg", toolbar_location=None,
               min_border_left=bl, min_border_right=br,
               min_border_top=bt, min_border_bottom=bb)
    p.xaxis.ticker = FixedTicker(ticks=xt)
    p.yaxis.ticker = FixedTicker(ticks=yt)
    p.xaxis.formatter = fmt(xd)
    p.yaxis.formatter = fmt(yd)
    p.xaxis.axis_label = xlab
    p.yaxis.axis_label = ylab
    for ax in (p.xaxis[0], p.yaxis[0]):
        ax.major_label_text_font = TICK_FONT
        ax.major_label_text_font_size = "15px"
        ax.major_label_text_color = "#222222"
        ax.axis_label_text_font = LABEL_FONT
        ax.axis_label_text_font_style = "bold"
        ax.axis_label_text_font_size = "13px"
        ax.axis_label_text_color = "#222222"
        ax.major_tick_in = 0
        ax.major_tick_out = 4
        ax.major_tick_line_color = "#222222"
        ax.minor_tick_line_color = None
        ax.axis_line_color = "#222222"
    p.yaxis.axis_label_text_font_size = ylab_size
    p.xaxis.major_label_standoff = 6
    p.yaxis.major_label_standoff = 4
    p.xaxis.axis_label_standoff = 4
    p.yaxis.axis_label_standoff = ystand
    p.grid.visible = False
    p.outline_line_color = "#222222"
    p.outline_line_width = 1
    p.background_fill_color = "white"
    p.border_fill_color = "white"
    return p


def curve(p, pts, color):
    x, y = unzip(pts)
    p.line(x, y, line_color=color, line_width=2)


def model(p, pts):
    x, y = unzip(pts)
    p.line(x, y, line_color="black", line_width=2, line_dash="7 4")


def dots(p, pts, color, size, err=None):
    x, y = unzip(pts)
    if err is not None:
        p.segment(x0=x, y0=y - err, x1=x, y1=y + err, line_color=color, line_width=2)
    p.scatter(x, y, size=size, fill_color=color, line_color=color)


R1_TOP, R1_H, R1_BOT = 8, 184, 56
R2_TOP, R2_H, R2_BOT = 8, 189, 45

# ---- Panel 1
p1 = make((0.00067, 0.006), (-0.0186, 0.401), freq_ticks, p1_yticks, 3, 1,
          FREQ_LABEL, POWER_LABEL, 70, 29, R1_TOP, R1_BOT, R1_H, 8)
for pts, c in [(p1_black, BLK), (p1_red, RED), (p1_blue, BLU), (p1_grey, GRY), (p1_orange, ORG),
               (p1_brown, BRN), (p1_green, GRN), (p1_magenta, MAG)]:
    curve(p1, pts, c)
for lv, c in zip(p1_levels, p1_level_colors):
    p1.add_layout(Span(location=lv, dimension="width", line_color=c, line_width=2, line_dash="7 3"))

# ---- Panel 2
p2 = make((7486, 9187), (-0.287, 0.107), jd_ticks_left, p2_yticks, 0, 1,
          JD_LABEL, HA_LABEL, 70, 29, R1_TOP, R1_BOT, R1_H, 6)
model(p2, p2_model)
dots(p2, p2_points, BLK, 10, p2_err)

# ---- Panel 3
p3 = make((0.000173, 0.006), (-0.0265, 0.5276), freq_ticks, p3_yticks, 3, 1,
          FREQ_LABEL, POWER_LABEL, 88, 21, R1_TOP, R1_BOT, R1_H, 12)
for pts, c in [(p3_red, RED), (p3_grey, GRY), (p3_blue, BLU), (p3_magenta, MAG), (p3_green, GRN),
               (p3_black, BLK), (p3_orange, ORG), (p3_brown, BRN), (p3_cyan, CYA)]:
    curve(p3, pts, c)
for lv, c in zip(p3_levels, p3_level_colors):
    p3.add_layout(Span(location=lv, dimension="width", line_color=c, line_width=2, line_dash="7 3"))

# ---- Panel 4
p4 = make((7265, 9834), (0.0972, 0.201), jd_ticks_right, p4_yticks, 0, 2,
          JD_LABEL, HA_LABEL, 70, 13, R1_TOP, R1_BOT, R1_H, 22)
model(p4, p4_model)
dots(p4, p4_points, BLK, 10)

# ---- Panel 5
p5 = make((7489, 9192), (0.1244, 0.1825), jd_ticks_left, p5_yticks, 0, 2,
          JD_LABEL, CA_LABEL, 70, 29, R2_TOP, R2_BOT, R2_H, 13)
model(p5, p5_model)
dots(p5, p5_points, BLU, 10, p5_err)

# ---- Panel 6
p6 = make((7484, 9200), (0.3723, 0.4028), jd_ticks_left, p6_yticks, 0, 2,
          JD_LABEL, TIO_LABEL, 70, 29, R2_TOP, R2_BOT, R2_H, 12, "16px")
dots(p6, p6_points, MAG, 10, p6_err)
model(p6, p6_model)

# ---- Panel 7
p7 = make((7253, 9868), (0.29663, 0.30667), jd_ticks_right, p7_yticks, 0, 3,
          JD_LABEL, CA_LABEL, 88, 21, R2_TOP, R2_BOT, R2_H, 13)
model(p7, p7_model)
dots(p7, p7_points, BLU, 10)

# ---- Panel 8
p8 = make((7265, 9850), (0.49583, 0.50576), jd_ticks_right, p8_yticks, 0, 3,
          JD_LABEL, TIO_LABEL, 70, 13, R2_TOP, R2_BOT, R2_H, 15, "16px")
dots(p8, p8_points, MAG, 10)
model(p8, p8_model)

layout = column(row(p1, p2, p3, p4, spacing=0), row(p5, p6, p7, p8, spacing=0), spacing=0)

open("out.html", "w").write(file_html(layout, INLINE))
